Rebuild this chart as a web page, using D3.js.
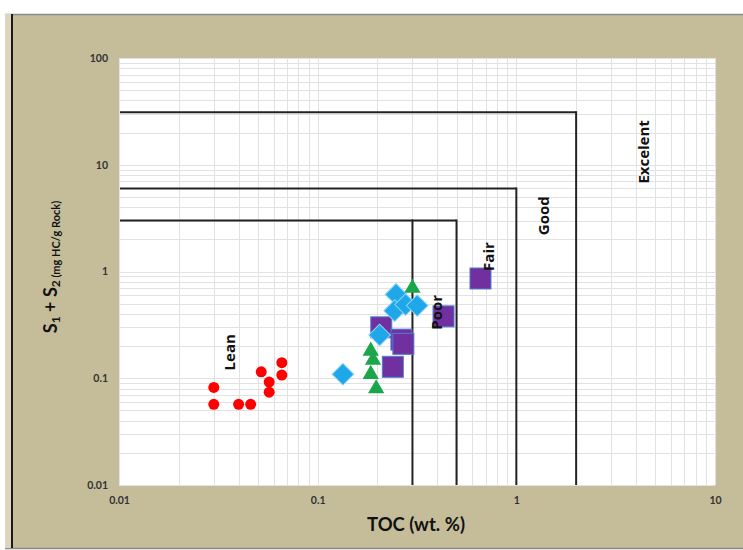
<!DOCTYPE html>
<html><head><meta charset="utf-8">
<script src="https://cdn.jsdelivr.net/npm/d3@7"></script>
<style>
html,body{margin:0;padding:0;background:#fff;}
svg{display:block;font-family:Lato,"Open Sans",sans-serif;}
</style></head>
<body><svg id="c" width="743" height="550"></svg>
<script>
// ---- data ----
const xTickValues = [0.01, 0.1, 1, 10];
const xTickLabels = ["0.01", "0.1", "1", "10"];
const yTickValues = [0.01, 0.1, 1, 10, 100];
const yTickLabels = ["0.01", "0.1", "1", "10", "100"];

// group 1 : red circles
const circleTOC = [0.030, 0.030, 0.040, 0.046, 0.052, 0.057, 0.057, 0.066, 0.066];
const circleS   = [0.082, 0.057, 0.057, 0.057, 0.115, 0.092, 0.074, 0.140, 0.107];
// group 2 : purple squares
const squareTOC = [0.209, 0.264, 0.270, 0.239, 0.43, 0.66];
const squareS   = [0.30, 0.23, 0.21, 0.128, 0.38, 0.86];
// group 3 : blue diamonds
const diamondTOC = [0.134, 0.248, 0.244, 0.277, 0.317, 0.205];
const diamondS   = [0.109, 0.61, 0.43, 0.49, 0.48, 0.254];
// group 4 : green triangles
const triTOC = [0.30, 0.185, 0.19, 0.185, 0.197];
const triS   = [0.70, 0.18, 0.148, 0.109, 0.080];

// classification boundaries
const classTOC = [0.3, 0.5, 1, 2];        // vertical lines (TOC)
const classTOCTop = [3, 3, 6, 31];        // where each vertical starts
const classS = [3, 6, 31];                // horizontal lines (S1+S2)
const classSRight = [0.5, 1, 2];          // where each horizontal ends
const gradeNames = ["Lean", "Poor", "Fair", "Good", "Excelent"];
const gradeTOC = [0.036, 0.396, 0.723, 1.38, 4.4];
const gradeS = [0.175, 0.414, 1.38, 3.33, 13.2];

// ---- layout ----
const svg = d3.select("#c");
const L = 119, R = 715, T = 58, B = 485;
const x = d3.scaleLog().domain([0.01, 10]).range([L, R]);
const y = d3.scaleLog().domain([0.01, 100]).range([B, T]);

// frame
svg.append("rect").attr("x", 5).attr("y", 14).attr("width", 738).attr("height", 534)
  .attr("fill", "#c5bd9a");
svg.append("line").attr("x1", 5).attr("x2", 743).attr("y1", 14.5).attr("y2", 14.5)
  .attr("stroke", "#8a8a8a").attr("stroke-width", 1.5);
svg.append("line").attr("x1", 5).attr("x2", 743).attr("y1", 548.5).attr("y2", 548.5)
  .attr("stroke", "#8a8a8a").attr("stroke-width", 1.5);
svg.append("rect").attr("x", 5).attr("y", 14).attr("width", 6).attr("height", 534)
  .attr("fill", "#dcd6bf");
svg.append("line").attr("x1", 12).attr("x2", 12).attr("y1", 14).attr("y2", 548)
  .attr("stroke", "#1a1a1a").attr("stroke-width", 2);

// plot area
svg.append("rect").attr("x", L).attr("y", T).attr("width", R - L).attr("height", B - T)
  .attr("fill", "#fff");

// grid (log minors)
const gx = [], gy = [];
for (let e = -2; e < 1; e++) for (let m = 1; m <= 9; m++) gx.push(m * Math.pow(10, e));
gx.push(10);
for (let e = -2; e < 2; e++) for (let m = 1; m <= 9; m++) gy.push(m * Math.pow(10, e));
gy.push(100);
const grid = svg.append("g").attr("stroke", "#e2e2e2").attr("stroke-width", 1);
grid.selectAll(".gx").data(gx).join("line")
  .attr("x1", d => Math.round(x(d)) + 0.5).attr("x2", d => Math.round(x(d)) + 0.5)
  .attr("y1", T).attr("y2", B);
grid.selectAll(".gy").data(gy).join("line")
  .attr("y1", d => Math.round(y(d)) + 0.5).attr("y2", d => Math.round(y(d)) + 0.5)
  .attr("x1", L).attr("x2", R);

// axes (labels only)
const xAxis = d3.axisBottom(x).tickValues(xTickValues)
  .tickFormat((d, i) => xTickLabels[i]).tickSize(0).tickPadding(12);
const gxA = svg.append("g").attr("transform", `translate(0,${B})`).call(xAxis);
const yAxis = d3.axisLeft(y).tickValues(yTickValues)
  .tickFormat((d, i) => yTickLabels[i]).tickSize(0).tickPadding(11);
const gyA = svg.append("g").attr("transform", `translate(${L},0)`).call(yAxis);
[gxA, gyA].forEach(g => {
  g.select(".domain").remove();
  g.selectAll("text").attr("fill", "#333").attr("font-size", 10.5)
    .attr("font-weight", "bold").attr("font-family", "Lato, sans-serif");
});

// classification lines
const cl = svg.append("g").attr("stroke", "#222").attr("stroke-width", 2).attr("fill", "none");
cl.selectAll(".h").data(classS).join("line")
  .attr("x1", L + 1).attr("x2", (d, i) => x(classSRight[i]))
  .attr("y1", d => y(d)).attr("y2", d => y(d));
cl.selectAll(".v").data(classTOC).join("line")
  .attr("x1", d => x(d)).attr("x2", d => x(d))
  .attr("y1", (d, i) => y(classTOCTop[i]) - 1).attr("y2", B);

// data marks
const pts = (a, b) => a.map((v, i) => [v, b[i]]);
svg.append("g").selectAll("circle").data(pts(circleTOC, circleS)).join("circle")
  .attr("cx", d => x(d[0])).attr("cy", d => y(d[1])).attr("r", 5.5)
  .attr("fill", "#ff0000");
svg.append("g").selectAll("rect").data(pts(squareTOC, squareS)).join("rect")
  .attr("x", d => x(d[0]) - 10.5).attr("y", d => y(d[1]) - 10.5)
  .attr("width", 21).attr("height", 21)
  .attr("fill", "#7030a0").attr("stroke", "#4f7fd0").attr("stroke-width", 1);
svg.append("g").selectAll("path").data(pts(diamondTOC, diamondS)).join("path")
  .attr("d", d3.symbol(d3.symbolSquare, 235))
  .attr("transform", d => `translate(${x(d[0])},${y(d[1])}) rotate(45)`)
  .attr("fill", "#1ea8ea").attr("stroke", "#8fd3f5").attr("stroke-width", 1);
svg.append("g").selectAll("path").data(pts(triTOC, triS)).join("path")
  .attr("d", d3.symbol(d3.symbolTriangle, 115))
  .attr("transform", d => `translate(${x(d[0])},${y(d[1])})`)
  .attr("fill", "#1aa64a");

// grade labels (on top of marks)
svg.append("g").selectAll("text").data(gradeNames).join("text")
  .attr("transform", (d, i) => `translate(${x(gradeTOC[i])},${y(gradeS[i])}) rotate(-90)`)
  .attr("text-anchor", "middle").attr("dy", "0.35em")
  .attr("font-family", "'Open Sans', sans-serif")
  .attr("font-size", 15).attr("font-weight", "bold").attr("fill", "#111")
  .text(d => d);

// axis titles
svg.append("text").attr("x", 416).attr("y", 531).attr("text-anchor", "middle")
  .attr("font-size", 18.5).attr("font-weight", "bold").attr("fill", "#111")
  .text("TOC (wt. %)");
const yt = svg.append("text").attr("transform", "translate(57,267) rotate(-90)")
  .attr("text-anchor", "middle").attr("font-weight", "bold").attr("fill", "#111")
  .attr("font-size", 18);
yt.append("tspan").text("S");
yt.append("tspan").attr("font-size", 12).attr("dy", 3).text("1");
yt.append("tspan").attr("dy", -3).text(" + S");
yt.append("tspan").attr("font-size", 12).attr("dy", 3).text("2");
yt.append("tspan").attr("font-size", 11).text(" (mg HC/g Rock)");
</script></body></html>
